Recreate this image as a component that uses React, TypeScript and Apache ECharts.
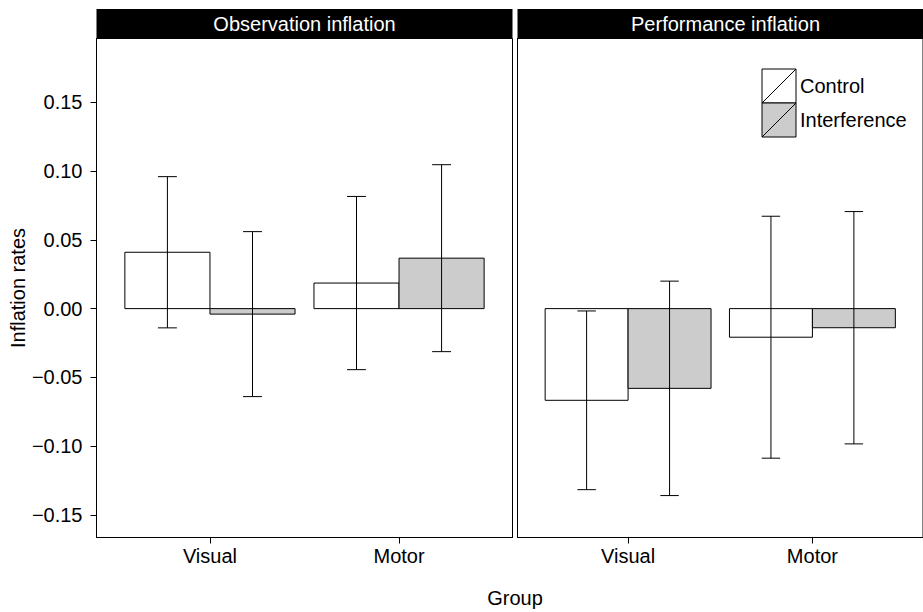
import React, { useEffect, useRef } from "react";
import * as echarts from "echarts";

// Groups along the x axis and the two conditions drawn side by side
const groups = ["Visual", "Motor"];
const conditions = ["Control", "Interference"];
const panelTitles = ["Observation inflation", "Performance inflation"];

// Mean inflation rates (Visual, Motor) and error half-widths
const obsControlMean = [0.041, 0.0186];
const obsControlErr = [0.055, 0.063];
const obsInterfMean = [-0.004, 0.0367];
const obsInterfErr = [0.06, 0.068];

const perfControlMean = [-0.0667, -0.0208];
const perfControlErr = [0.065, 0.088];
const perfInterfMean = [-0.058, -0.0139];
const perfInterfErr = [0.078, 0.0845];

// Y axis tick values
const yTicks = [-0.15, -0.1, -0.05, 0, 0.05, 0.1, 0.15];

const FONT = "Liberation Sans, Arial, Helvetica, sans-serif";
const FILLS = ["#ffffff", "#cccccc"];
const BAR_W = 0.45;
const CAP_W = 0.1;

const Y_MIN = -0.1665;
const Y_MAX = 0.1965;

const PANEL_LEFT = [96.5, 517.5];
const PANEL_W = 416;
const PANEL_TOP = 38.5;
const PANEL_H = 499;
const STRIP_TOP = 9;

function panelData(cm: number[], ce: number[], im: number[], ie: number[]) {
  const rows: number[][] = [];
  groups.forEach((_, g) => rows.push([g + 1, 0, cm[g], ce[g]]));
  groups.forEach((_, g) => rows.push([g + 1, 1, im[g], ie[g]]));
  return rows;
}

function fmtTick(v: number) {
  const s = Math.abs(v).toFixed(2);
  return v < -1e-9 ? "\u2212" + s : s;
}

function renderBar(_params: any, api: any) {
  const xc = api.value(0);
  const cond = api.value(1);
  const mean = api.value(2);
  const x0 = xc + (cond === 0 ? -BAR_W : 0);
  const a = api.coord([x0, 0]);
  const b = api.coord([x0 + BAR_W, mean]);
  return {
    type: "rect",
    shape: {
      x: Math.min(a[0], b[0]),
      y: Math.min(a[1], b[1]),
      width: Math.abs(b[0] - a[0]),
      height: Math.abs(b[1] - a[1]),
    },
    style: { fill: FILLS[cond], stroke: "#000", lineWidth: 1 },
  };
}

function renderErr(_params: any, api: any) {
  const xc = api.value(0);
  const cond = api.value(1);
  const mean = api.value(2);
  const err = api.value(3);
  const xm = xc + (cond === 0 ? -BAR_W / 2 : BAR_W / 2);
  const top = api.coord([xm, mean + err]);
  const bot = api.coord([xm, mean - err]);
  const capL = api.coord([xm - CAP_W / 2, 0])[0];
  const capR = api.coord([xm + CAP_W / 2, 0])[0];
  const st = { stroke: "#000", lineWidth: 1 };
  return {
    type: "group",
    children: [
      { type: "line", shape: { x1: top[0], y1: top[1], x2: bot[0], y2: bot[1] }, style: st },
      { type: "line", shape: { x1: capL, y1: top[1], x2: capR, y2: top[1] }, style: st },
      { type: "line", shape: { x1: capL, y1: bot[1], x2: capR, y2: bot[1] }, style: st },
    ],
  };
}

export default function App() {
  const ref = useRef<HTMLDivElement>(null);

  useEffect(() => {
    if (!ref.current) return;
    const chart = echarts.init(ref.current, undefined, { renderer: "svg" });

    const textStyle = { fontFamily: FONT, fontSize: 20, color: "#000" };

    const grids = PANEL_LEFT.map((left) => ({
      left,
      top: PANEL_TOP,
      width: PANEL_W,
      height: PANEL_H,
      show: true,
      borderColor: "#000",
      borderWidth: 1,
      backgroundColor: "#fff",
      containLabel: false,
    }));

    const xAxes = PANEL_LEFT.map((_, i) => ({
      type: "value",
      gridIndex: i,
      min: 0.4,
      max: 2.6,
      splitLine: { show: false },
      axisLine: { show: true, onZero: false, lineStyle: { color: "#000", width: 1 } },
      axisTick: {
        show: true,
        customValues: [1, 2],
        length: 6,
        lineStyle: { color: "#000", width: 1 },
      },
      axisLabel: {
        customValues: [1, 2],
        formatter: (v: number) => groups[Math.round(v) - 1] ?? "",
        margin: 8,
        ...textStyle,
      },
    }));

    const yAxes = PANEL_LEFT.map((_, i) => ({
      type: "value",
      gridIndex: i,
      min: Y_MIN,
      max: Y_MAX,
      splitLine: { show: false },
      axisLine: { show: true, onZero: false, lineStyle: { color: "#000", width: 1 } },
      axisTick: {
        show: i === 0,
        customValues: yTicks,
        length: 6,
        lineStyle: { color: "#000", width: 1 },
      },
      axisLabel: {
        show: i === 0,
        customValues: yTicks,
        formatter: fmtTick,
        margin: 14,
        ...textStyle,
      },
      name: i === 0 ? "Inflation rates" : "",
      nameLocation: "middle",
      nameGap: 66,
      nameRotate: 90,
      nameTextStyle: textStyle,
    }));

    const data = [
      panelData(obsControlMean, obsControlErr, obsInterfMean, obsInterfErr),
      panelData(perfControlMean, perfControlErr, perfInterfMean, perfInterfErr),
    ];

    const series: any[] = [];
    data.forEach((rows, i) => {
      series.push({
        type: "custom",
        name: "bars" + i,
        xAxisIndex: i,
        yAxisIndex: i,
        renderItem: renderBar,
        data: rows,
        encode: { x: 0, y: 2 },
        silent: true,
      });
      series.push({
        type: "custom",
        name: "errors" + i,
        xAxisIndex: i,
        yAxisIndex: i,
        renderItem: renderErr,
        data: rows,
        encode: { x: 0, y: 2 },
        silent: true,
      });
    });

    // Facet strips
    const strips: any[] = [];
    PANEL_LEFT.forEach((left, i) => {
      strips.push({
        type: "rect",
        shape: { x: left, y: STRIP_TOP, width: PANEL_W, height: PANEL_TOP - STRIP_TOP },
        style: { fill: "#000" },
      });
      strips.push({
        type: "text",
        x: left + PANEL_W / 2,
        y: (STRIP_TOP + PANEL_TOP) / 2,
        style: {
          text: panelTitles[i],
          fill: "#fff",
          font: `20px ${FONT}`,
          align: "center",
          verticalAlign: "middle",
        },
      });
    });

    // Legend keys with diagonal slash
    const keyX = 762;
    const keyY = 69;
    const keyS = 34;
    const legend: any[] = [];
    conditions.forEach((c, k) => {
      const y = keyY + k * keyS;
      legend.push({
        type: "rect",
        shape: { x: keyX, y, width: keyS, height: keyS },
        style: { fill: FILLS[k], stroke: "#000", lineWidth: 1 },
      });
      legend.push({
        type: "line",
        shape: { x1: keyX, y1: y + keyS, x2: keyX + keyS, y2: y },
        style: { stroke: "#000", lineWidth: 1 },
      });
      legend.push({
        type: "text",
        x: keyX + keyS + 4,
        y: y + keyS / 2,
        style: {
          text: c,
          fill: "#000",
          font: `20px ${FONT}`,
          align: "left",
          verticalAlign: "middle",
        },
      });
    });

    const xTitle = {
      type: "text",
      x: (PANEL_LEFT[0] + PANEL_LEFT[1] + PANEL_W) / 2,
      y: 598,
      style: {
        text: "Group",
        fill: "#000",
        font: `20px ${FONT}`,
        align: "center",
        verticalAlign: "middle",
      },
    };

    chart.setOption({
      animation: false,
      backgroundColor: "#fff",
      grid: grids,
      xAxis: xAxes,
      yAxis: yAxes,
      series,
      graphic: [...strips, ...legend, xTitle],
    });

    return () => chart.dispose();
  }, []);

  return (
    <div
      ref={ref}
      style={{ position: "absolute", left: 0, top: 0, width: 923, height: 612 }}
    />
  );
}
